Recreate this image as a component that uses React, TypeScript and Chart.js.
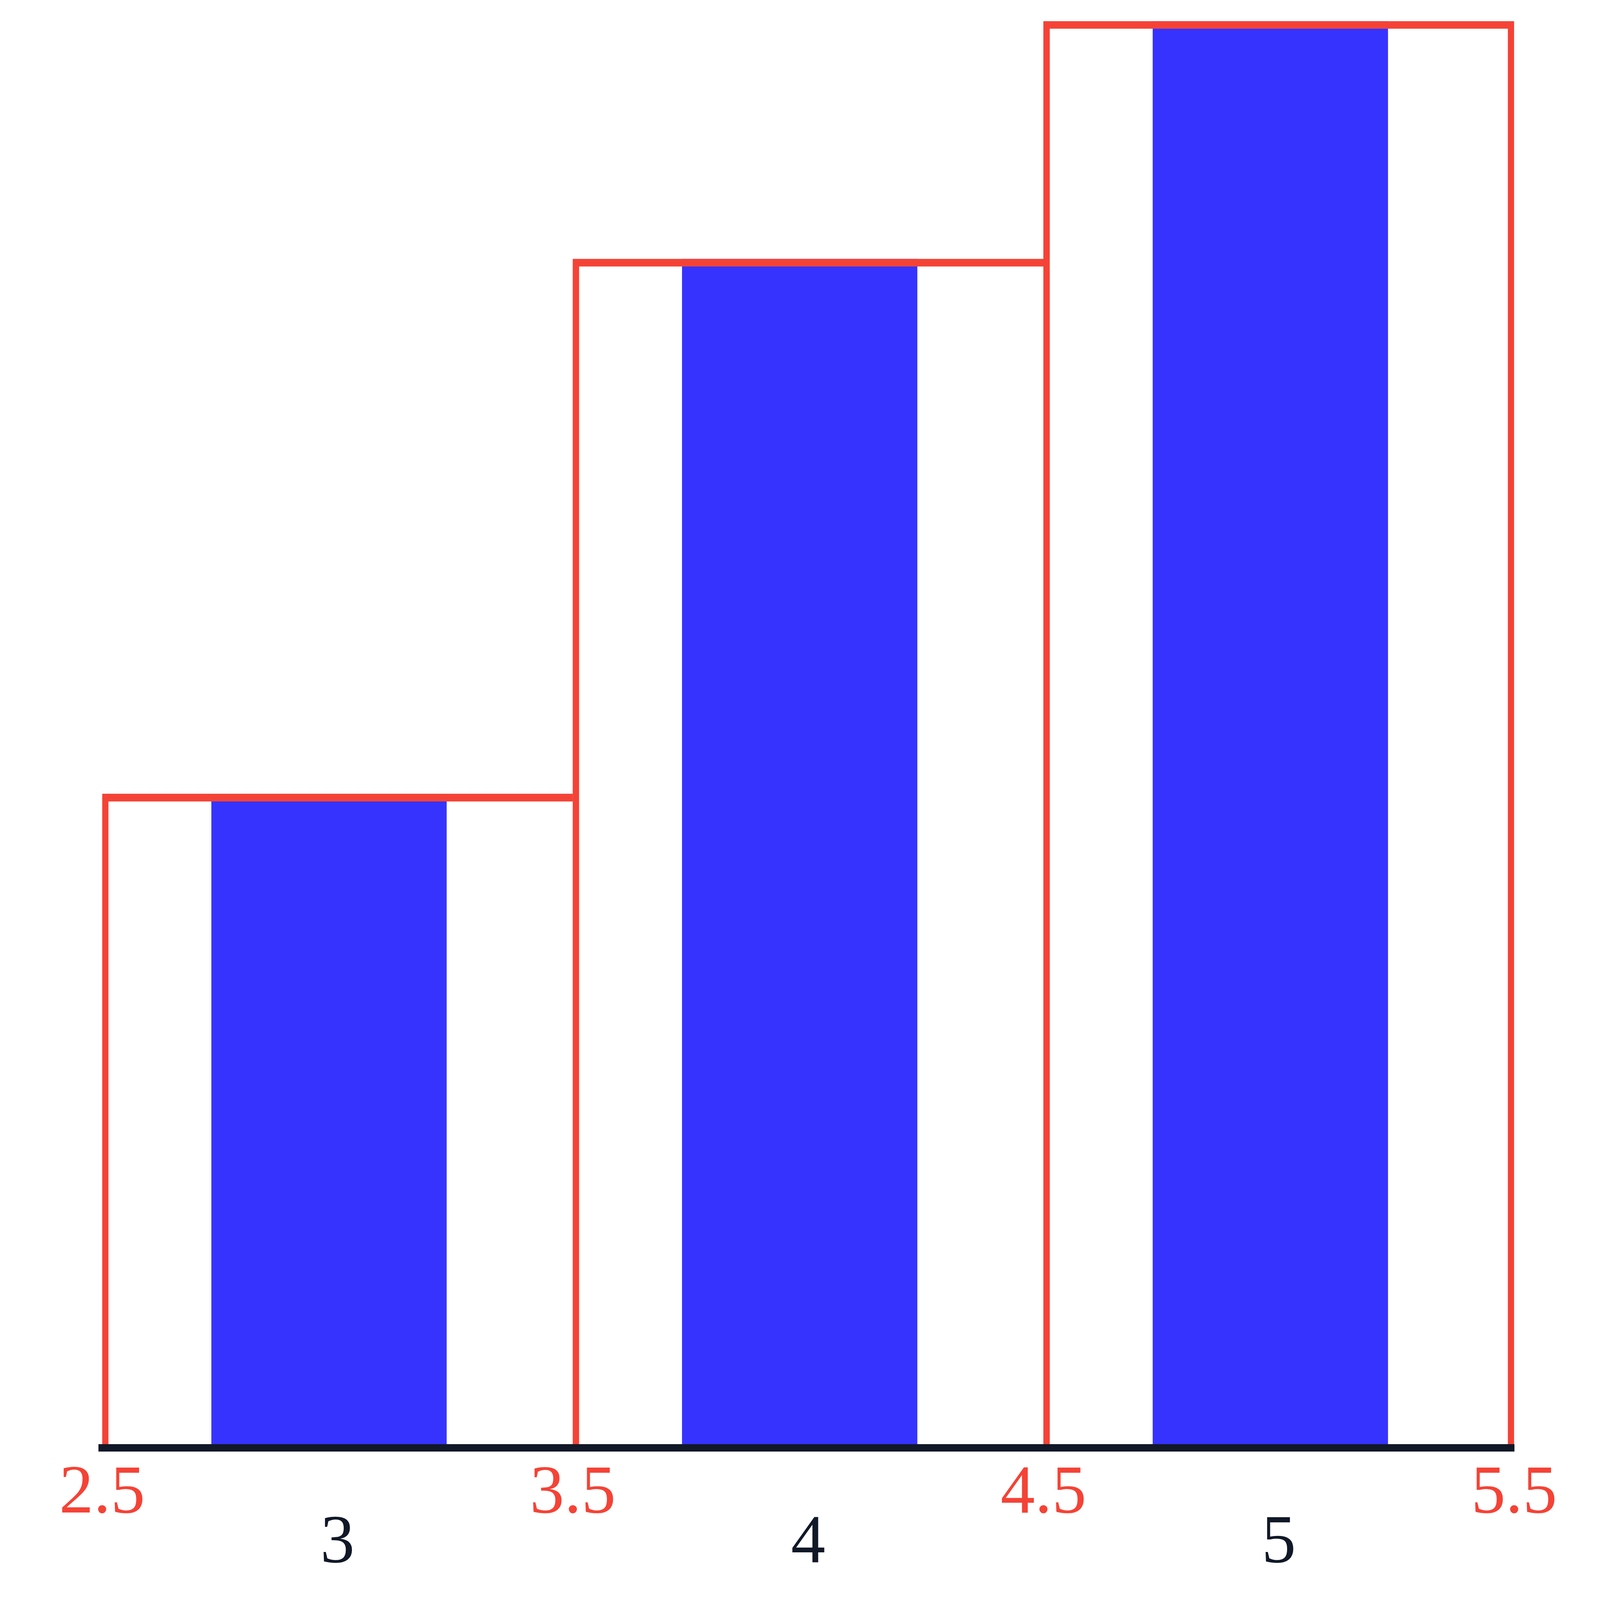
import React, { useEffect, useRef } from "react";
import { Chart, registerables } from "chart.js";

Chart.register(...registerables);

// histogram data
const categories = ["3", "4", "5"];
const counts = [11, 20, 24];
const binEdges = [2.5, 3.5, 4.5, 5.5];
const barShift = 0.018; // blue bars sit a little left of the bin centres

const RED = "#f44336";
const BLUE = "#3633ff";
const INK = "#111827";

const App: React.FC = () => {
  const boxRef = useRef<HTMLDivElement | null>(null);
  const canvasRef = useRef<HTMLCanvasElement | null>(null);

  useEffect(() => {
    document.body.style.margin = "0";
    if (!canvasRef.current || !boxRef.current) return;
    // layout was measured on a 5200x4308 picture, scale to whatever the page gives us
    const sx = boxRef.current.clientWidth / 5200;
    const sy = boxRef.current.clientHeight / 4308;
    const font = {
      family: "'Liberation Serif', 'DejaVu Serif', serif",
      size: 185 * Math.sqrt(sx * sy) * Math.sqrt(sy / sx),
      lineHeight: 0.5,
    };
    font.size = Math.min(font.size, 200 * sy);

    const chart = new Chart(canvasRef.current, {
      type: "bar",
      data: {
        labels: categories,
        datasets: [
          {
            // red bin outlines, drawn on top of the blue bars
            label: "bins",
            data: counts,
            xAxisID: "x",
            backgroundColor: "rgba(0,0,0,0)",
            borderColor: RED,
            borderWidth: (ctx: any) => ({
              top: 20 * sy,
              left: 20 * sx,
              right: ctx.dataIndex === counts.length - 1 ? 20 * sx : 0,
              bottom: 0,
            }),
            barPercentage: 1,
            categoryPercentage: 1,
            grouped: false,
          },
          {
            label: "counts",
            data: categories.map((c, i) => ({ x: Number(c), y: counts[i] })),
            xAxisID: "xb",
            backgroundColor: BLUE,
            borderWidth: 0,
            barPercentage: 0.5,
            categoryPercentage: 1,
            grouped: false,
          },
        ],
      },
      options: {
        animation: false,
        responsive: true,
        maintainAspectRatio: false,
        layout: { padding: { left: 332 * sx, right: 279 * sx, top: 57 * sy, bottom: 97 * sy } },
        plugins: {
          legend: { display: false },
          tooltip: { enabled: false },
        },
        scales: {
          x: {
            type: "category",
            position: "bottom",
            weight: 1,
            offset: true,
            grid: { display: false, drawTicks: false },
            border: { display: false },
            afterFit: (scale: any) => {
              scale.height = 133 * sy;
            },
            ticks: { color: INK, padding: 33 * sy, maxRotation: 0, font },
          },
          edge: {
            type: "linear",
            position: "bottom",
            weight: 0,
            min: 2.5,
            max: 5.5,
            offset: false,
            grid: { display: false, drawTicks: false, offset: false },
            border: { display: true, color: INK, width: 20 * sy, z: 1 },
            afterBuildTicks: (scale: any) => {
              scale.ticks = binEdges.map((v) => ({ value: v }));
            },
            afterFit: (scale: any) => {
              scale.height = 180 * sy;
            },
            ticks: {
              color: RED,
              padding: 80 * sy,
              autoSkip: false,
              maxRotation: 0,
              font,
              callback: (v: any) => Number(v).toFixed(1),
            },
          },
          xb: {
            type: "linear",
            axis: "x",
            display: false,
            offset: false,
            min: binEdges[0] + barShift,
            max: binEdges[binEdges.length - 1] + barShift,
            afterBuildTicks: (scale: any) => {
              scale.ticks = categories.map((c) => ({ value: Number(c) }));
            },
          },
          y: { display: false, min: 0, max: 24 },
        },
      },
    });

    return () => {
      chart.destroy();
    };
  }, []);

  return (
    <div ref={boxRef} style={{ position: "relative", width: "100vw", height: "100vh" }}>
      <canvas ref={canvasRef}></canvas>
    </div>
  );
};

export default App;
